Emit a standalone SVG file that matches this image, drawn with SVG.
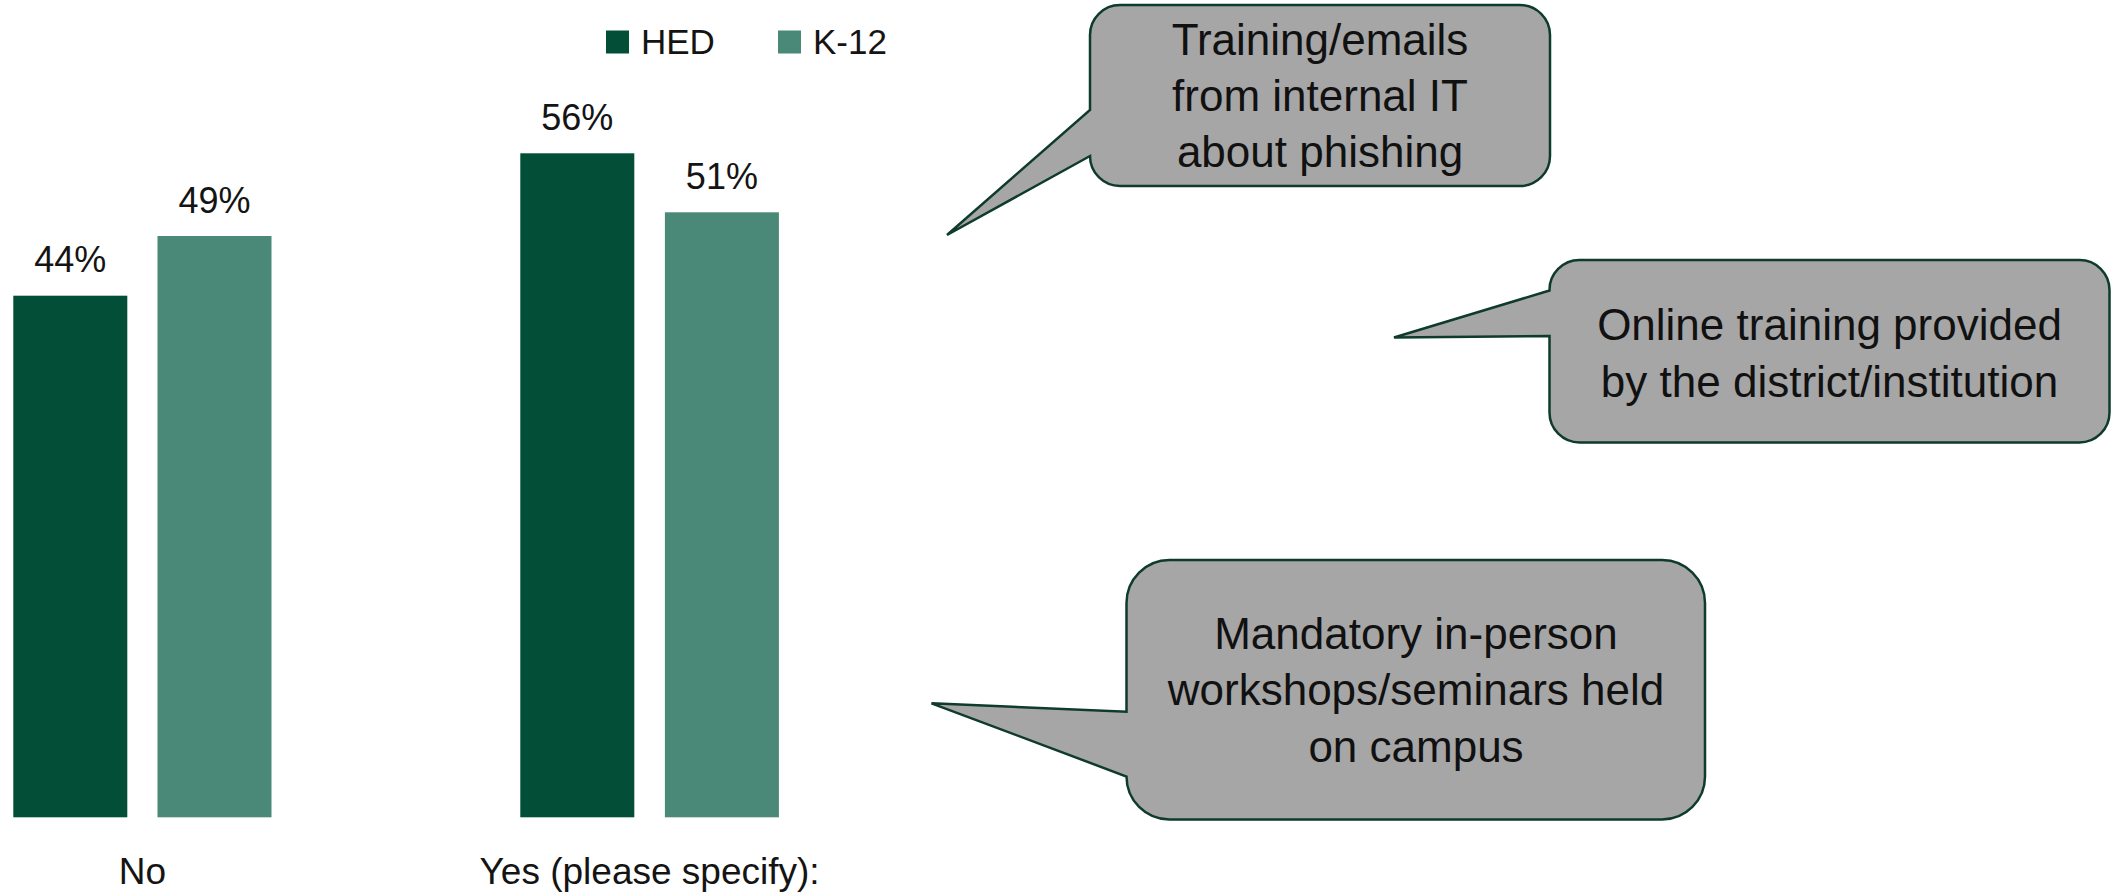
<svg xmlns="http://www.w3.org/2000/svg" width="2118" height="893" viewBox="0 0 2118 893">
  <style>
    .hed { fill: #024E37; }
    .k12 { fill: #4A8978; }
    .lbl { font-family: "Liberation Sans", Arial, sans-serif; font-size: 36px; fill: #141414; text-anchor: middle; }
    .axis { font-family: "Liberation Sans", Arial, sans-serif; font-size: 37px; fill: #141414; text-anchor: middle; }
    .leg { font-family: "Liberation Sans", Arial, sans-serif; font-size: 35px; fill: #141414; }
    .callout { fill: #A6A6A6; stroke: #0E3B2A; stroke-width: 2.5; stroke-linejoin: miter; }
    .ctext { font-family: "Liberation Sans", Arial, sans-serif; font-size: 44px; fill: #111111; text-anchor: middle; }
  </style>
  <rect width="2118" height="893" fill="#FFFFFF"/>

  <g id="legend">
    <rect class="hed" x="606" y="30.5" width="23" height="23"/>
    <text class="leg" x="641" y="54">HED</text>
    <rect class="k12" x="778" y="30.5" width="23" height="23"/>
    <text class="leg" x="813" y="54">K-12</text>
  </g>

  <g id="bars-no">
    <rect class="hed" x="13.3" y="295.7" width="114" height="521.6"/>
    <rect class="k12" x="157.5" y="236" width="114" height="581.3"/>
    <text class="lbl" x="70.3" y="272.3">44%</text>
    <text class="lbl" x="214.5" y="212.7">49%</text>
    <text class="axis" x="142.4" y="884">No</text>
  </g>

  <g id="bars-yes">
    <rect class="hed" x="520.3" y="153.3" width="114" height="664"/>
    <rect class="k12" x="664.9" y="212.3" width="114" height="605"/>
    <text class="lbl" x="577.3" y="130">56%</text>
    <text class="lbl" x="721.9" y="189">51%</text>
    <text class="axis" x="649.6" y="884">Yes (please specify):</text>
  </g>

  <g id="callout-training-emails">
    <path class="callout" d="M1120,5 H1520 A30,30 0 0 1 1550,35 V156 A30,30 0 0 1 1520,186 H1120 A30,30 0 0 1 1090,156 L947,235 L1090,110 V35 A30,30 0 0 1 1120,5 Z"/>
    <text class="ctext" x="1320" y="55">Training/emails</text>
    <text class="ctext" x="1320" y="111">from internal IT</text>
    <text class="ctext" x="1320" y="167">about phishing</text>
  </g>

  <g id="callout-online-training">
    <path class="callout" d="M1579.5,260 H2079.5 A30,30 0 0 1 2109.5,290 V412.5 A30,30 0 0 1 2079.5,442.5 H1579.5 A30,30 0 0 1 1549.5,412.5 V336 L1394,337.5 L1549.5,290.5 A30,30 0 0 1 1579.5,260 Z"/>
    <text class="ctext" x="1829.5" y="339.5">Online training provided</text>
    <text class="ctext" x="1829.5" y="396.5">by the district/institution</text>
  </g>

  <g id="callout-mandatory">
    <path class="callout" d="M1169.5,560 H1662 A43,43 0 0 1 1705,603 V776.5 A43,43 0 0 1 1662,819.5 H1169.5 A43,43 0 0 1 1126.5,776.5 L931.5,703.3 L1126.5,711.7 V603 A43,43 0 0 1 1169.5,560 Z"/>
    <text class="ctext" x="1416" y="648.5">Mandatory in-person</text>
    <text class="ctext" x="1416" y="705">workshops/seminars held</text>
    <text class="ctext" x="1416" y="761.5">on campus</text>
  </g>

  <g id="connectors"/>
</svg>
